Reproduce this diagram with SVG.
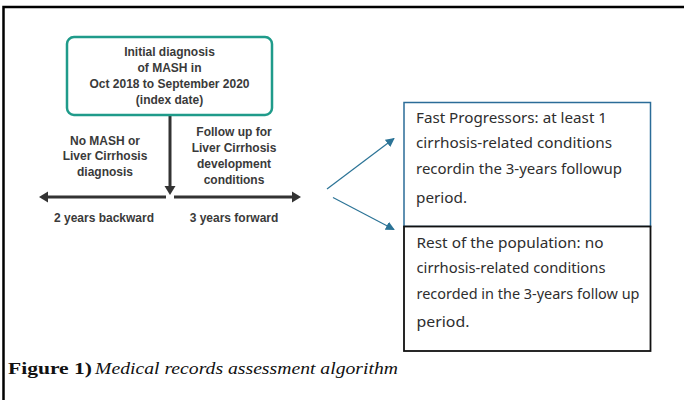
<svg xmlns="http://www.w3.org/2000/svg" width="684" height="407" viewBox="0 0 684 407">
<defs>
<style>
.lbl{font-family:"Liberation Sans",Arial,sans-serif;font-weight:bold;font-size:12px;fill:#3a3a3a;text-anchor:middle}
.bt{font-family:"Noto Sans","Open Sans",sans-serif;font-size:13.5px;fill:#2e2e2e}
.cap{font-family:"Liberation Serif","Times New Roman",serif;font-size:16.5px;fill:#111}
.blk{stroke:#333;stroke-width:3;fill:none}
.blu{stroke:#2b7396;stroke-width:1.2;fill:none}
</style>
<marker id="ab" viewBox="0 0 10 10" refX="9" refY="5" markerWidth="9" markerHeight="9" markerUnits="userSpaceOnUse" orient="auto">
<path d="M0,0 L10,5 L0,10 Z" fill="#2b7396"/>
</marker>
</defs>
<rect width="684" height="407" fill="#fff"/>
<g id="frame">
<path d="M3.5,400 L3.5,7 L684,7" fill="none" stroke="#000" stroke-width="2.5"/>
</g>
<g id="connectors">
<line class="blk" x1="170" y1="115" x2="170" y2="187"/>
<path d="M164.5,186 L175.5,186 L170,195 Z" fill="#333"/>
<line class="blk" x1="47" y1="197" x2="166" y2="197"/>
<path d="M48,191.5 L48,202.5 L39,197 Z" fill="#333"/>
<line class="blk" x1="174" y1="197" x2="292" y2="197"/>
<path d="M292,191.5 L292,202.5 L301,197 Z" fill="#333"/>
<line class="blu" x1="327" y1="189" x2="394" y2="138.5" marker-end="url(#ab)"/>
<line class="blu" x1="333" y1="197.5" x2="394" y2="229.5" marker-end="url(#ab)"/>
</g>
<g id="index">
<rect x="67" y="37" width="205" height="78" rx="7" fill="#fff" stroke="#1f9b8a" stroke-width="2.5"/>
<text class="lbl" x="169.5" y="56">Initial diagnosis</text>
<text class="lbl" x="169.5" y="72">of MASH in</text>
<text class="lbl" x="169.5" y="88">Oct 2018 to September 2020</text>
<text class="lbl" x="169.5" y="103.5">(index date)</text>
</g>
<g id="backward-label">
<text class="lbl" x="105" y="144.5">No MASH or</text>
<text class="lbl" x="105" y="160">Liver Cirrhosis</text>
<text class="lbl" x="105" y="176">diagnosis</text>
<text class="lbl" x="104" y="221.5">2 years backward</text>
</g>
<g id="forward-label">
<text class="lbl" x="234" y="136">Follow up for</text>
<text class="lbl" x="234" y="152">Liver Cirrhosis</text>
<text class="lbl" x="234" y="168">development</text>
<text class="lbl" x="234" y="183.5">conditions</text>
<text class="lbl" x="234" y="221.5">3 years forward</text>
</g>
<g id="fast">
<rect x="404" y="102.5" width="246.5" height="124" fill="#fff" stroke="#2b6c98" stroke-width="1.5"/>
<text class="bt" x="416" y="123" textLength="191" lengthAdjust="spacingAndGlyphs">Fast Progressors: at least 1</text>
<text class="bt" x="416" y="148" textLength="196" lengthAdjust="spacingAndGlyphs">cirrhosis-related conditions</text>
<text class="bt" x="416" y="174" textLength="206" lengthAdjust="spacingAndGlyphs">recordin the 3-years followup</text>
<text class="bt" x="416" y="203" textLength="51" lengthAdjust="spacingAndGlyphs">period.</text>
</g>
<g id="rest">
<rect x="404" y="226.5" width="246.5" height="124.5" fill="#fff" stroke="#111" stroke-width="1.8"/>
<text class="bt" x="416.5" y="247.5" textLength="187" lengthAdjust="spacingAndGlyphs">Rest of the population: no</text>
<text class="bt" x="416.5" y="273" textLength="189" lengthAdjust="spacingAndGlyphs">cirrhosis-related conditions</text>
<text class="bt" x="416.5" y="299" textLength="223" lengthAdjust="spacingAndGlyphs">recorded in the 3-years follow up</text>
<text class="bt" x="416.5" y="326.5" textLength="53" lengthAdjust="spacingAndGlyphs">period.</text>
</g>
<g id="caption">
<text class="cap" x="8" y="373.5"><tspan font-weight="bold" textLength="84" lengthAdjust="spacingAndGlyphs">Figure 1)</tspan><tspan font-style="italic" x="95" textLength="303" lengthAdjust="spacingAndGlyphs">Medical records assessment algorithm</tspan></text>
</g>
</svg>
